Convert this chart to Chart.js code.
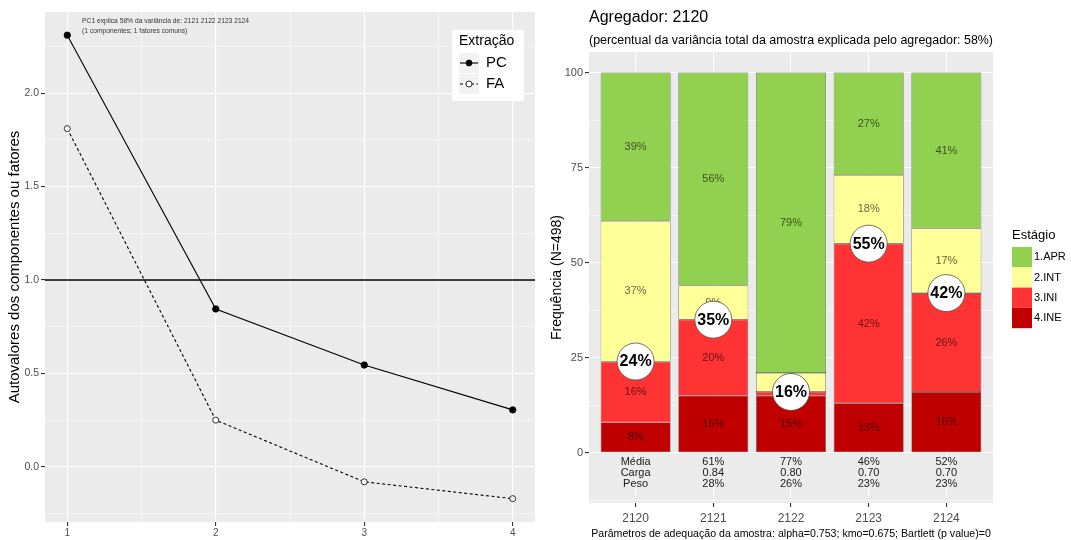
<!DOCTYPE html>
<html>
<head>
<meta charset="utf-8">
<script src="https://cdn.jsdelivr.net/npm/chart.js@4.4.1/dist/chart.umd.min.js"></script>
<style>
  html, body { margin: 0; padding: 0; background: #ffffff; }
  #wrap { position: relative; width: 1071px; height: 540px; overflow: hidden; }
  #scree { position: absolute; left: 0; top: 0; }
  #stage { position: absolute; left: 540px; top: 0; }
</style>
</head>
<body>
<div id="wrap">
  <canvas id="scree" width="540" height="540"></canvas>
  <canvas id="stage" width="531" height="540"></canvas>
</div>
<script>
// ---- Scree plot data ----
const factorIdx = [1, 2, 3, 4];
const pcEigen = [2.31, 0.845, 0.545, 0.305];
const faEigen = [1.81, 0.25, -0.08, -0.17];
const screeXTicks = [1, 1.5, 2, 2.5, 3, 3.5, 4];
const screeYTicks = [-0.25, 0, 0.25, 0.5, 0.75, 1, 1.25, 1.5, 1.75, 2, 2.25];
const kaiserLevel = 1;
const screeNote = ['PC1 explica 58% da variância de: 2121 2122 2123 2124',
                   '(1 componentes; 1 fatores comuns)'];

// ---- Stage distribution data ----
const categories = ['2120', '2121', '2122', '2123', '2124'];
const stageNames = ['1.APR', '2.INT', '3.INI', '4.INE'];
const apr = [39, 56, 79, 27, 41];
const intm = [37, 9, 5, 18, 17];
const ini = [16, 20, 1, 42, 26];
const ine = [8, 15, 15, 13, 16];
const stageColors = ['#92D050', '#FFFF99', '#FF3333', '#C00000'];
const stageYTicks = [-12.5, 0, 12.5, 25, 37.5, 50, 62.5, 75, 87.5, 100];
const statRowNames = ['Média', 'Carga', 'Peso'];
const mediaVals = [61, 77, 46, 52];
const cargaVals = [0.84, 0.80, 0.70, 0.70];
const pesoVals = [28, 26, 23, 23];

const FONT = "'Liberation Sans', Arial, Helvetica, sans-serif";
Chart.defaults.font.family = FONT;
Chart.defaults.color = '#4D4D4D';

const isMult = (v, step) => Math.abs(v / step - Math.round(v / step)) < 1e-9;

// grey ggplot-like panel behind the plotting area
const panelBg = {
  id: 'panelBg',
  beforeDraw(chart) {
    const { ctx, chartArea: a } = chart;
    ctx.save();
    ctx.fillStyle = '#EBEBEB';
    ctx.fillRect(a.left, a.top, a.right - a.left, a.bottom - a.top);
    ctx.restore();
  }
};

// note text and legend of the scree plot
const screeDecor = {
  id: 'screeDecor',
  afterDraw(chart) {
    const ctx = chart.ctx;
    const xs = chart.scales.x, ys = chart.scales.y;
    ctx.save();
    ctx.fillStyle = '#333333';
    ctx.font = '6.7px ' + FONT;
    ctx.textBaseline = 'middle';
    ctx.textAlign = 'left';
    ctx.fillText(screeNote[0], xs.getPixelForValue(1.1), ys.getPixelForValue(2.385));
    ctx.fillText(screeNote[1], xs.getPixelForValue(1.1), ys.getPixelForValue(2.33));

    // legend box
    const bx = 452, by = 30, bw = 72, bh = 71;
    ctx.fillStyle = '#ffffff';
    ctx.fillRect(bx, by, bw, bh);
    ctx.fillStyle = '#000000';
    ctx.font = '14px ' + FONT;
    ctx.fillText('Extração', bx + 7, by + 11);
    const entries = [chart.data.datasets[2], chart.data.datasets[1]];
    entries.forEach((ds, i) => {
      const kx = bx + 7, ky = by + 23 + i * 21, ks = 20;
      ctx.fillStyle = '#F2F2F2';
      ctx.fillRect(kx, ky, ks, ks);
      ctx.strokeStyle = '#000000';
      ctx.lineWidth = 1.1;
      ctx.setLineDash(ds.borderDash || []);
      ctx.beginPath();
      ctx.moveTo(kx + 1, ky + ks / 2);
      ctx.lineTo(kx + ks - 1, ky + ks / 2);
      ctx.stroke();
      ctx.setLineDash([]);
      ctx.beginPath();
      ctx.arc(kx + ks / 2, ky + ks / 2, 3, 0, Math.PI * 2);
      ctx.fillStyle = ds.pointBackgroundColor;
      ctx.fill();
      ctx.lineWidth = 0.8;
      ctx.stroke();
      ctx.fillStyle = '#000000';
      ctx.font = '15px ' + FONT;
      ctx.fillText(ds.label, kx + ks + 7, ky + ks / 2);
    });
    ctx.restore();
  }
};

new Chart(document.getElementById('scree'), {
  type: 'line',
  data: {
    datasets: [
      {
        label: 'ref',
        data: [{ x: 0.85, y: kaiserLevel }, { x: 4.15, y: kaiserLevel }],
        borderColor: '#000000', borderWidth: 1.3, pointRadius: 0
      },
      {
        label: 'FA',
        data: factorIdx.map((x, i) => ({ x, y: faEigen[i] })),
        borderColor: '#000000', borderWidth: 1.1, borderDash: [3, 2.5],
        pointRadius: 3, pointBackgroundColor: '#ffffff',
        pointBorderColor: '#000000', pointBorderWidth: 0.8
      },
      {
        label: 'PC',
        data: factorIdx.map((x, i) => ({ x, y: pcEigen[i] })),
        borderColor: '#000000', borderWidth: 1.1,
        pointRadius: 3.2, pointBackgroundColor: '#000000',
        pointBorderColor: '#000000', pointBorderWidth: 0.8
      }
    ]
  },
  options: {
    responsive: false, animation: false, events: [],
    layout: { padding: { left: 0, top: 12, right: 5, bottom: 0 } },
    plugins: { legend: { display: false }, tooltip: { enabled: false } },
    scales: {
      x: {
        type: 'linear', min: 0.85, max: 4.15,
        afterBuildTicks: s => { s.ticks = screeXTicks.map(v => ({ value: v })); },
        afterFit: s => { s.height = 18; },
        border: { display: false },
        grid: {
          color: '#ffffff',
          lineWidth: c => isMult(c.tick.value, 1) ? 1.1 : 0.55,
          tickColor: c => isMult(c.tick.value, 1) ? '#333333' : 'rgba(0,0,0,0)',
          tickLength: 4
        },
        ticks: {
          autoSkip: false, maxRotation: 0, padding: 1,
          font: { size: 10 }, color: '#4D4D4D',
          callback: v => isMult(v, 1) ? String(v) : ''
        }
      },
      y: {
        type: 'linear', min: -0.295, max: 2.434,
        afterBuildTicks: s => { s.ticks = screeYTicks.map(v => ({ value: v })); },
        afterFit: s => { s.width = 45; },
        border: { display: false },
        grid: {
          color: '#ffffff',
          lineWidth: c => isMult(c.tick.value, 0.5) ? 1.1 : 0.55,
          tickColor: c => isMult(c.tick.value, 0.5) ? '#333333' : 'rgba(0,0,0,0)',
          tickLength: 4
        },
        ticks: {
          autoSkip: false, padding: 2,
          font: { size: 10.5 }, color: '#4D4D4D',
          callback: v => isMult(v, 0.5) ? v.toFixed(1) : ''
        },
        title: {
          display: true, text: 'Autovalores dos componentes ou fatores',
          color: '#000000', font: { size: 15 }, padding: { top: 6, bottom: 0 }
        }
      }
    }
  },
  plugins: [panelBg, screeDecor]
});

// ---- stacked stage bars ----
const stageSeries = [apr, intm, ini, ine];
const stageDatasets = [3, 2, 1, 0].map(k => ({
  label: stageNames[k],
  data: categories.map((c, i) => ({ x: i + 1, y: stageSeries[k][i] })),
  backgroundColor: stageColors[k],
  borderColor: '#4A4A4A',
  borderWidth: 0.6,
  borderSkipped: false,
  categoryPercentage: 0.9,
  barPercentage: 1.0
}));

const stageDecor = {
  id: 'stageDecor',
  afterDatasetsDraw(chart) {
    const ctx = chart.ctx;
    const ys = chart.scales.y, xs = chart.scales.x;
    ctx.save();
    ctx.textAlign = 'center';
    ctx.textBaseline = 'middle';
    // percentage inside each segment
    ctx.font = '11px ' + FONT;
    ctx.fillStyle = 'rgba(0,0,0,0.62)';
    chart.data.datasets.forEach((ds, di) => {
      const meta = chart.getDatasetMeta(di);
      meta.data.forEach((el, j) => {
        const p = el.getProps(['x', 'y', 'base'], true);
        ctx.fillText(ds.data[j].y + '%', p.x, (p.y + p.base) / 2);
      });
    });
    // circled share of INI + INE
    categories.forEach((c, i) => {
      const v = ine[i] + ini[i];
      const cx = xs.getPixelForValue(i + 1), cy = ys.getPixelForValue(v);
      ctx.beginPath();
      ctx.arc(cx, cy, 18.5, 0, Math.PI * 2);
      ctx.fillStyle = '#ffffff';
      ctx.fill();
      ctx.strokeStyle = '#5A4A3A';
      ctx.lineWidth = 0.8;
      ctx.stroke();
      ctx.fillStyle = '#000000';
      ctx.font = 'bold 16px ' + FONT;
      ctx.fillText(v + '%', cx, cy + 0.5);
    });
    // summary rows under the bars
    ctx.font = '11px ' + FONT;
    ctx.fillStyle = '#1A1A1A';
    const rowY = [-2.3, -5.3, -8.1];
    const rows = [
      mediaVals.map(v => v + '%'),
      cargaVals.map(v => v.toFixed(2)),
      pesoVals.map(v => v + '%')
    ];
    rowY.forEach((yv, r) => {
      const py = ys.getPixelForValue(yv);
      ctx.fillText(statRowNames[r], xs.getPixelForValue(1), py);
      rows[r].forEach((t, j) => ctx.fillText(t, xs.getPixelForValue(j + 2), py));
    });
    ctx.restore();
  },
  afterDraw(chart) {
    const ctx = chart.ctx;
    ctx.save();
    ctx.textBaseline = 'middle';
    ctx.textAlign = 'left';
    ctx.fillStyle = '#000000';
    ctx.font = '13px ' + FONT;
    const lx = 472, ly = 247;
    ctx.fillText('Estágio', lx, 235);
    stageNames.forEach((n, k) => {
      const ky = ly + k * 20.3;
      ctx.fillStyle = stageColors[k];
      ctx.fillRect(lx, ky, 20, 20.3);
      ctx.fillStyle = '#000000';
      ctx.font = '11px ' + FONT;
      ctx.fillText(n, lx + 22, ky + 10.2);
    });
    ctx.restore();
  }
};

new Chart(document.getElementById('stage'), {
  type: 'bar',
  data: { datasets: stageDatasets },
  options: {
    responsive: false, animation: false, events: [],
    layout: { padding: { left: 0, top: 0, right: 78, bottom: 0 } },
    plugins: {
      legend: { display: false },
      tooltip: { enabled: false },
      title: {
        display: true, text: 'Agregador: 2120', align: 'start', fullSize: false,
        color: '#000000', font: { size: 16, weight: 'normal' },
        padding: { top: 8, bottom: 2 }
      },
      subtitle: {
        display: true,
        text: '(percentual da variância total da amostra explicada pelo agregador: 58%)',
        align: 'start', fullSize: false,
        color: '#000000', font: { size: 13.3, weight: 'normal' },
        padding: { top: 3, bottom: 3.84 }
      }
    },
    scales: {
      x: {
        type: 'linear', min: 0.4, max: 5.6, stacked: true, offset: false,
        afterBuildTicks: s => { s.ticks = categories.map((c, i) => ({ value: i + 1 })); },
        afterFit: s => { s.height = 37; },
        border: { display: false },
        grid: { offset: false, color: '#ffffff', lineWidth: 1.1, tickColor: '#333333', tickLength: 4 },
        ticks: {
          autoSkip: false, maxRotation: 0, padding: 4,
          font: { size: 12 }, color: '#4D4D4D',
          callback: v => categories[Math.round(v) - 1]
        },
        title: {
          display: true,
          text: 'Parâmetros de adequação da amostra: alpha=0.753; kmo=0.675; Bartlett (p value)=0',
          color: '#000000', font: { size: 10.6 }, padding: { top: 0, bottom: 0 }
        }
      },
      y: {
        type: 'linear', min: -13.2, max: 105.4, stacked: true,
        afterBuildTicks: s => { s.ticks = stageYTicks.map(v => ({ value: v })); },
        afterFit: s => { s.width = 49; },
        border: { display: false },
        grid: {
          color: '#ffffff',
          lineWidth: c => isMult(c.tick.value, 25) ? 1.1 : 0.55,
          tickColor: c => isMult(c.tick.value, 25) ? '#333333' : 'rgba(0,0,0,0)',
          tickLength: 4
        },
        ticks: {
          autoSkip: false, padding: 2,
          font: { size: 11 }, color: '#4D4D4D',
          callback: v => isMult(v, 25) ? String(v) : ''
        },
        title: {
          display: true, text: 'Frequência (N=498)',
          color: '#000000', font: { size: 14 }, padding: { top: 9, bottom: 0 }
        }
      }
    }
  },
  plugins: [panelBg, stageDecor]
});
</script>
</body>
</html>
